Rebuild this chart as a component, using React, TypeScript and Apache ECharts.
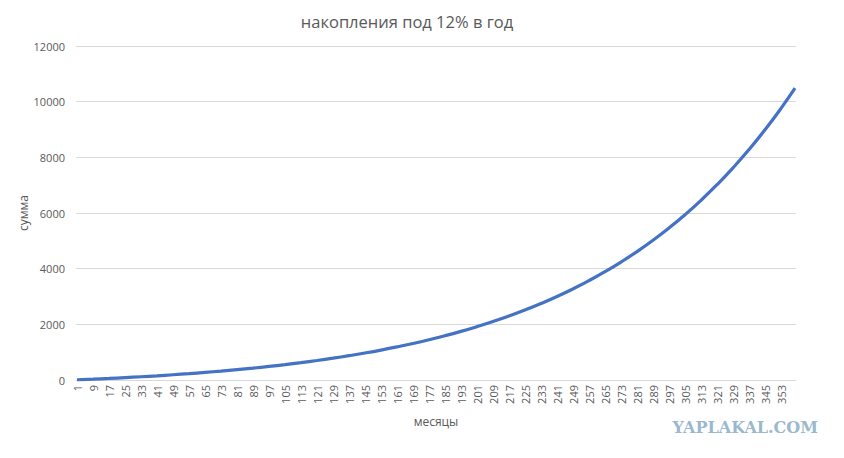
import React, { useEffect, useRef } from "react";
import * as echarts from "echarts";

const titleText = "накопления под 12% в год";
const yAxisName = "сумма";
const xAxisName = "месяцы";
const watermark = "YAPLAKAL.COM";

// categories: months 1..360
const months: string[] = Array.from({ length: 360 }, (_, i) => String(i + 1));

// values at the labelled months (plus the last month)
const sampleMonths: number[] = [
  1, 9, 17, 25, 33, 41, 49, 57, 65, 73, 81, 89, 97, 105, 113, 121, 129, 137,
  145, 153, 161, 169, 177, 185, 193, 201, 209, 217, 225, 233, 241, 249, 257,
  265, 273, 281, 289, 297, 305, 313, 321, 329, 337, 345, 353, 360,
];
const sampleValues: number[] = [
  3, 28, 55, 85, 117, 151, 189, 229, 273, 320, 372, 427, 488, 553, 624, 700,
  783, 873, 970, 1075, 1189, 1312, 1446, 1591, 1747, 1917, 2100, 2299, 2515,
  2748, 3000, 3274, 3570, 3891, 4238, 4614, 5021, 5462, 5939, 6456, 7016, 7622,
  8279, 8990, 9759, 10485,
];

const yMin = 0;
const yMax = 12000;
const yStep = 2000;

export default function App() {
  const ref = useRef<HTMLDivElement>(null);
  useEffect(() => {
    if (!ref.current) return;
    const chart = echarts.init(ref.current, undefined, { renderer: "svg" });
    const font = "'Open Sans', 'Liberation Sans', sans-serif";
    chart.setOption({
      animation: false,
      backgroundColor: "#ffffff",
      title: {
        text: titleText,
        left: 402,
        top: 8,
        textAlign: "center",
        textStyle: {
          color: "#595959",
          fontSize: 16.5,
          fontWeight: "normal",
          fontFamily: font,
        },
      },
      grid: { left: 76, right: 48, top: 46, bottom: 78 },
      xAxis: {
        type: "category",
        data: months,
        boundaryGap: true,
        name: xAxisName,
        nameLocation: "middle",
        nameGap: 35,
        nameMoveOverlap: false,
        nameTextStyle: { color: "#595959", fontSize: 12, fontFamily: font },
        axisLine: { show: true, lineStyle: { color: "#d9d9d9", width: 1 } },
        axisTick: { show: false },
        axisLabel: {
          interval: 7,
          rotate: 90,
          color: "#595959",
          fontSize: 11,
          fontFamily: font,
          margin: 5,
        },
        splitLine: { show: false },
      },
      yAxis: {
        type: "value",
        min: yMin,
        max: yMax,
        interval: yStep,
        name: yAxisName,
        nameLocation: "middle",
        nameRotate: 90,
        nameGap: 47,
        nameMoveOverlap: false,
        nameTextStyle: { color: "#595959", fontSize: 12, fontFamily: font },
        axisLine: { show: false },
        axisTick: { show: false },
        axisLabel: {
          color: "#595959",
          fontSize: 11,
          fontFamily: font,
          margin: 11,
          formatter: (v: number) => String(v),
        },
        splitLine: { show: true, lineStyle: { color: "#d9d9d9", width: 1 } },
      },
      graphic: [
        {
          type: "text",
          right: 26,
          top: 419,
          style: {
            text: watermark,
            fill: "#9ab8ce",
            fontSize: 16,
            fontWeight: 900,
            fontFamily: "'DejaVu Serif', serif",
          },
        },
      ],
      series: [
        {
          type: "line",
          data: sampleMonths.map((m, i) => [String(m), sampleValues[i]]),
          showSymbol: false,
          smooth: true,
          lineStyle: { color: "#4472c4", width: 3.2 },
          itemStyle: { color: "#4472c4" },
        },
      ],
    });
    return () => chart.dispose();
  }, []);
  return (
    <div
      ref={ref}
      style={{ position: "absolute", left: 0, top: 0, width: 844, height: 458 }}
    />
  );
}
